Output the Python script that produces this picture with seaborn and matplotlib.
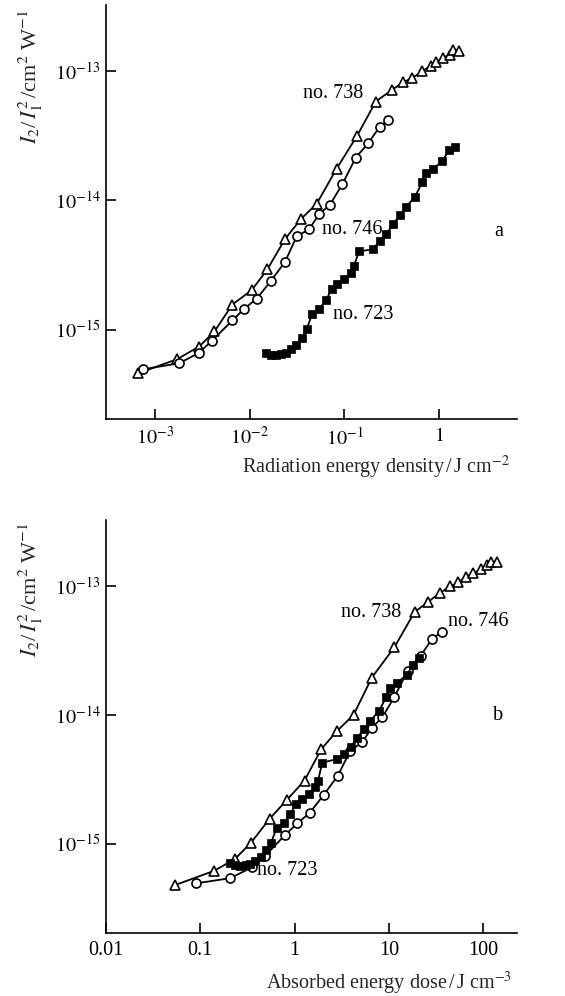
import numpy as np
import pandas as pd
import matplotlib
matplotlib.use("Agg")
import matplotlib.pyplot as plt
import seaborn as sns

sns.set_theme(style="white")
plt.rcParams['font.family'] = ['Liberation Serif', 'DejaVu Serif']
plt.rcParams['mathtext.fontset'] = 'stix'

# ---------------- data (log10 values) ----------------
# Panel a: radiation energy density (J cm^-2) vs I2/I1^2
a738_logx = [-3.18, -2.77, -2.535, -2.373, -2.184, -1.979, -1.814, -1.628, -1.459, -1.293,
             -1.082, -0.868, -0.668, -0.496, -0.380, -0.281, -0.175, -0.088, -0.027, 0.042,
             0.113, 0.148, 0.211]
a738_logy = [-15.337, -15.228, -15.130, -15.013, -14.805, -14.694, -14.533, -14.300, -14.144, -14.027,
             -13.755, -13.504, -13.236, -13.146, -13.088, -13.054, -13.002, -12.959, -12.932, -12.899,
             -12.873, -12.834, -12.847]

a746_logx = [-3.129, -2.746, -2.542, -2.401, -2.184, -2.060, -1.926, -1.778, -1.628, -1.504,
             -1.371, -1.266, -1.153, -1.023, -0.879, -0.749, -0.626, -0.538]
a746_logy = [-15.306, -15.259, -15.181, -15.086, -14.928, -14.839, -14.759, -14.624, -14.476, -14.279,
             -14.222, -14.105, -14.035, -13.877, -13.669, -13.560, -13.430, -13.379]

a723_logx = [-1.831, -1.778, -1.723, -1.670, -1.620, -1.568, -1.512, -1.451, -1.399, -1.340,
             -1.266, -1.195, -1.135, -1.076, -1.002, -0.935, -0.900, -0.844, -0.696, -0.626,
             -0.555, -0.485, -0.415, -0.351, -0.256, -0.175, -0.140, -0.063, 0.036, 0.105, 0.166]
a723_logy = [-15.181, -15.195, -15.195, -15.189, -15.177, -15.148, -15.117, -15.065, -14.995, -14.878,
             -14.839, -14.772, -14.689, -14.650, -14.611, -14.559, -14.507, -14.395, -14.377, -14.313,
             -14.261, -14.183, -14.117, -14.053, -13.975, -13.858, -13.786, -13.755, -13.698, -13.612, -13.591]

# Panel b: absorbed energy dose (J cm^-3) vs I2/I1^2
b738_logx = [-1.265, -0.856, -0.636, -0.467, -0.265, -0.082, 0.106, 0.283, 0.452, 0.626,
             0.820, 1.060, 1.273, 1.421, 1.548, 1.651, 1.739, 1.821, 1.898, 1.980,
             2.039, 2.086, 2.150]
b738_logy = [-15.318, -15.209, -15.119, -14.995, -14.806, -14.659, -14.509, -14.266, -14.124, -14.000,
             -13.711, -13.475, -13.204, -13.122, -13.052, -13.005, -12.974, -12.928, -12.902, -12.871,
             -12.837, -12.816, -12.816]

b746_logx = [-1.04, -0.68, -0.45, -0.31, -0.10, 0.03, 0.16, 0.31, 0.46, 0.59,
             0.72, 0.82, 0.93, 1.06, 1.20, 1.34, 1.46, 1.56]
b746_logy = [-15.305, -15.265, -15.18, -15.09, -14.93, -14.84, -14.76, -14.62, -14.47, -14.28,
             -14.21, -14.10, -14.02, -13.86, -13.66, -13.54, -13.41, -13.36]

b723_logx = [-0.689, -0.63, -0.575, -0.52, -0.47, -0.42, -0.36, -0.30, -0.25, -0.19,
             -0.115, -0.045, 0.015, 0.075, 0.15, 0.215, 0.25, 0.293, 0.449, 0.52,
             0.595, 0.665, 0.735, 0.80, 0.895, 0.975, 1.01, 1.09, 1.19, 1.26, 1.32]
b723_logy = [-15.145, -15.165, -15.17, -15.165, -15.155, -15.13, -15.10, -15.05, -14.99, -14.88,
             -14.84, -14.77, -14.69, -14.65, -14.61, -14.56, -14.51, -14.37, -14.343, -14.30,
             -14.25, -14.18, -14.11, -14.05, -13.97, -13.86, -13.79, -13.75, -13.69, -13.61, -13.56]

top_xticks = [1e-3, 1e-2, 1e-1, 1]
top_xticklabels = [r'$10^{-3}$', r'$10^{-2}$', r'$10^{-1}$', r'$1$']
bot_xticks = [0.01, 0.1, 1, 10, 100]
bot_xticklabels = ['0.01', '0.1', '1', '10', '100']
yticks = [1e-15, 1e-14, 1e-13]
yticklabels = [r'$10^{-15}$', r'$10^{-14}$', r'$10^{-13}$']

top_xlabel = r'Radiation energy density$\,$/$\,$J cm$^{-2}$'
bot_xlabel = r'Absorbed energy dose$\,$/$\,$J cm$^{-3}$'
ylabel = r'$I_2$/$\,I_1^2\,$/cm$^2$ W$^{-1}$'

# ---------------- figure ----------------
fig = plt.figure(figsize=(5.65, 9.96), dpi=100)
ax_a = fig.add_axes([106/565, 1-419/996, (517-106)/565, (419-5)/996])
ax_b = fig.add_axes([106/565, 1-933/996, (517-106)/565, (933-520)/996])

styles = {
    '738': dict(marker='^', markersize=7.5, markerfacecolor='white', markeredgecolor='black', markeredgewidth=1.2),
    '746': dict(marker='o', markersize=6.5, markerfacecolor='white', markeredgecolor='black', markeredgewidth=1.2),
    '723': dict(marker='s', markersize=5.5, markerfacecolor='black', markeredgecolor='black', markeredgewidth=0.5),
}

def draw(ax, series):
    for key, lx, ly in series:
        df = pd.DataFrame({'x': 10 ** np.array(lx), 'y': 10 ** np.array(ly)})
        sns.lineplot(data=df, x='x', y='y', ax=ax, sort=False, color='black',
                     linewidth=1.3, estimator=None, **styles[key])

draw(ax_a, [('738', a738_logx, a738_logy), ('746', a746_logx, a746_logy), ('723', a723_logx, a723_logy)])
draw(ax_b, [('738', b738_logx, b738_logy), ('746', b746_logx, b746_logy), ('723', b723_logx, b723_logy)])

for ax in (ax_a, ax_b):
    ax.set_xscale('log')
    ax.set_yscale('log')
    ax.set_ylim(10 ** -15.69, 10 ** -12.49)
    ax.minorticks_off()
    for s in ('top', 'right'):
        ax.spines[s].set_visible(False)
    for s in ('left', 'bottom'):
        ax.spines[s].set_color('black')
        ax.spines[s].set_linewidth(1.2)
    ax.tick_params(direction='in', length=7, width=1.2, labelsize=14.5, colors='black', pad=4,
                   bottom=True, left=True)
    ax.tick_params(axis='x', pad=6)
    ax.set_yticks(yticks)
    ax.set_yticklabels(yticklabels)
    ax.set_xlabel('')
    ax.set_ylabel('')

ax_a.set_xlim(10 ** -3.52, 10 ** 0.825)
ax_a.set_xticks(top_xticks)
ax_a.set_xticklabels(top_xticklabels)
ax_b.set_xlim(10 ** -2, 10 ** 2.36)
ax_b.set_xticks(bot_xticks)
ax_b.set_xticklabels(bot_xticklabels)

# axis labels
fig.text(510/565, 1-467/996, top_xlabel, ha='right', va='center', fontsize=14.5)
fig.text(512/565, 1-983/996, bot_xlabel, ha='right', va='center', fontsize=14.5)
fig.text(31/565, 1-77/996, ylabel, ha='center', va='center', rotation=90, fontsize=16)
fig.text(31/565, 1-590/996, ylabel, ha='center', va='center', rotation=90, fontsize=16)

# annotations
ann = dict(fontsize=14.5, ha='center', va='center', color='black')
ax_a.text(10 ** -1.121, 10 ** -13.171, 'no. 738', **ann)
ax_a.text(10 ** -0.921, 10 ** -14.222, 'no. 746', **ann)
ax_a.text(10 ** -0.806, 10 ** -14.883, 'no. 723', **ann)
ax_a.text(10 ** 0.63, 10 ** -14.24, 'a', **ann)
ax_b.text(10 ** 0.817, 10 ** -13.209, 'no. 738', **ann)
ax_b.text(10 ** 1.951, 10 ** -13.277, 'no. 746', **ann)
ax_b.text(10 ** -0.082, 10 ** -15.207, 'no. 723', **ann)
ax_b.text(10 ** 2.163, 10 ** -14.008, 'b', **ann)

fig.savefig('out.png', dpi=100, facecolor='white')
